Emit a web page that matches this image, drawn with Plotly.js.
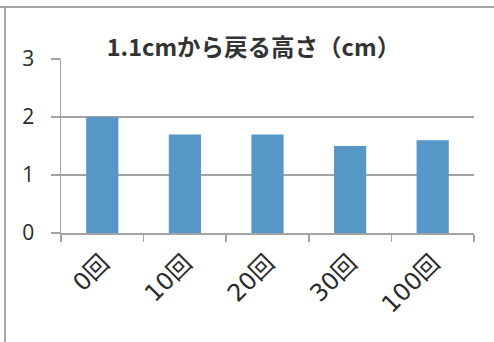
<!DOCTYPE html>
<html>
<head>
<meta charset="utf-8">
<script src="https://cdn.plot.ly/plotly-3.0.1.min.js"></script>
<style>
  html, body { margin: 0; padding: 0; background: #fff; }
  #chart { width: 494px; height: 342px; }
</style>
</head>
<body>
<div id="chart"></div>
<script>
// Rebound height after dropping from 1.1 cm, by number of repetitions
const categories = ['0回', '10回', '20回', '30回', '100回'];
const heights = [2.0, 1.7, 1.7, 1.5, 1.6];
const yTicks = [0, 1, 2, 3];
const chartTitle = '1.1cmから戻る高さ（cm）';

const font = '"Noto Sans CJK JP", "Noto Sans", sans-serif';
const labelFont = '"DejaVu Sans", "Noto Sans CJK JP", sans-serif';
const gridColor = '#a3a3a3';

const trace = {
  type: 'bar',
  x: categories,
  y: heights,
  marker: { color: '#5797c8', line: { width: 0 } },
  hoverinfo: 'x+y'
};

const layout = {
  width: 494,
  height: 342,
  margin: { l: 61, r: 20, t: 59, b: 109 },
  paper_bgcolor: '#ffffff',
  plot_bgcolor: '#ffffff',
  showlegend: false,
  bargap: 0.61,
  title: {
    text: '<b>' + chartTitle + '</b>',
    font: { family: font, size: 23.5, color: '#333333' },
    x: 0.513, xref: 'container', xanchor: 'center',
    y: 0.86, yref: 'container', yanchor: 'middle'
  },
  xaxis: {
    type: 'category',
    showgrid: false,
    showline: true,
    linecolor: gridColor,
    linewidth: 1.5,
    ticks: 'outside',
    tickson: 'boundaries',
    ticklen: 7,
    tickwidth: 1.5,
    tickcolor: gridColor,
    tickangle: -45,
    ticklabelstandoff: 5,
    tickfont: { family: labelFont, size: 24, color: '#2a2a2a' },
    zeroline: false
  },
  yaxis: {
    range: [0, 3],
    tickvals: yTicks,
    ticktext: yTicks.map(String),
    showgrid: true,
    gridcolor: gridColor,
    gridwidth: 1.5,
    showline: true,
    linecolor: gridColor,
    linewidth: 1.5,
    ticks: 'outside',
    ticklen: 9,
    tickwidth: 1.5,
    tickcolor: gridColor,
    ticklabelstandoff: 12,
    tickfont: { family: '"Open Sans", "Noto Sans", sans-serif', size: 21, color: '#2a2a2a' },
    zeroline: false
  },
  shapes: [
    // outer frame lines (top and left edges of the sheet)
    { type: 'line', xref: 'paper', yref: 'paper', x0: -61/413, x1: 474/413, y0: 1 + 52/174, y1: 1 + 52/174,
      line: { color: '#8a8a8a', width: 1.5 } },
    { type: 'line', xref: 'paper', yref: 'paper', x0: -56/413, x1: -56/413, y0: 1 + 52/174, y1: -109/174,
      line: { color: '#8a8a8a', width: 1.5 } }
  ]
};

Plotly.newPlot('chart', [trace], layout, { displayModeBar: false, staticPlot: true });
</script>
</body>
</html>
